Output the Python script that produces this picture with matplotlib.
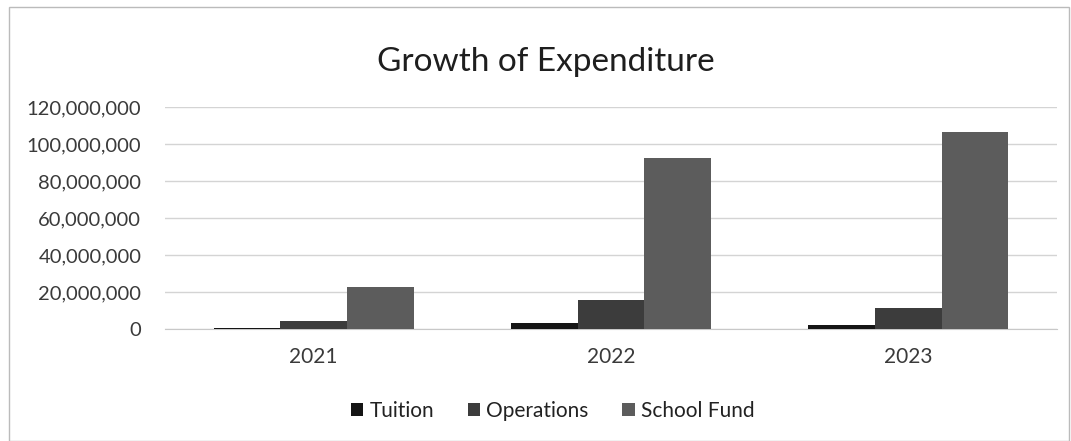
import matplotlib
matplotlib.use("Agg")
import matplotlib.pyplot as plt
import numpy as np
from matplotlib.ticker import FuncFormatter
from matplotlib.patches import Rectangle

years = ["2021", "2022", "2023"]
series_names = ["Tuition", "Operations", "School Fund"]
tuition = [500000, 3000000, 2200000]
operations = [4500000, 15700000, 11200000]
school_fund = [22500000, 92300000, 106700000]
colors = ["#151515", "#3c3c3c", "#5c5c5c"]

plt.rcParams['font.family'] = ['Lato', 'DejaVu Sans']

fig = plt.figure(figsize=(10.71, 4.41), dpi=100)
ax = fig.add_axes([0.154, 0.254, 0.833, 0.503])

x = np.arange(len(years))
w = 0.224
for i, (vals, name, c) in enumerate(zip([tuition, operations, school_fund], series_names, colors)):
    ax.bar(x + (i - 1) * w, vals, width=w, color=c, label=name, zorder=3)

ax.set_xlim(-0.5, 2.5)
ax.set_ylim(0, 120000000)
ax.set_yticks(np.arange(0, 120000001, 20000000))
ax.yaxis.set_major_formatter(FuncFormatter(lambda v, p: f"{int(v):,}"))
ax.set_xticks(x)
ax.set_xticklabels(years)
ax.tick_params(axis='both', length=0, labelsize=15, colors="#3a3a3a")
ax.tick_params(axis='y', labelsize=14.5, pad=17)
ax.tick_params(axis='x', pad=13)
ax.grid(axis='y', color="#d4d4d4", linewidth=1, zorder=0)
for s in ['top', 'right', 'left']:
    ax.spines[s].set_visible(False)
ax.spines['bottom'].set_color("#c8c8c8")

fig.text(0.510, 0.860, "Growth of Expenditure", ha='center', va='center', fontsize=24, color="#1e1e1e")

fig.legend(loc='center', bbox_to_anchor=(0.516, 0.068), ncol=3, frameon=False, fontsize=15,
           handlelength=0.6, handleheight=0.6, handletextpad=0.3, columnspacing=1.6,
           labelcolor="#222222")

fig.patches.append(Rectangle((0.008, 0.0), 0.99, 0.985, transform=fig.transFigure,
                             fill=False, edgecolor="#bbbbbb", linewidth=1))

fig.savefig("out.png", dpi=100)
